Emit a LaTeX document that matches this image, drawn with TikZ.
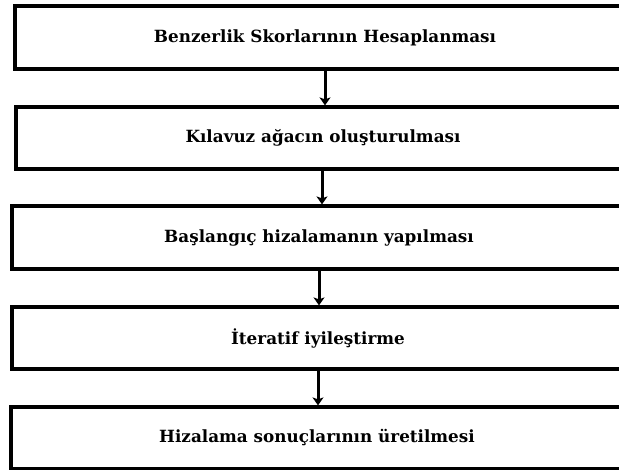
\documentclass[tikz,border=0pt]{standalone}
\usepackage{fontspec}
\setmainfont{DejaVu Serif}
\usetikzlibrary{arrows.meta}
\begin{document}
\begin{tikzpicture}[x=1pt,y=1pt,
  stepbox/.style={draw=black, line width=3.2pt, fill=white, inner sep=0pt,
    font=\fontsize{16.8}{19}\selectfont\bfseries},
  flow/.style={line width=3pt, -{Stealth[length=8pt,width=11pt,inset=2pt]}}]
\useasboundingbox (0,0) rectangle (619,-470);
\fill[white] (0,0) rectangle (619,-470);
\node[stepbox, minimum width=620pt, minimum height=63pt] (b1) at (325,-37.5) {Benzerlik Skorlarının Hesaplanması};
\node[stepbox, minimum width=614pt, minimum height=62pt] (b2) at (323,-138) {Kılavuz ağacın oluşturulması};
\node[stepbox, minimum width=614pt, minimum height=63pt] (b3) at (319,-237.5) {Başlangıç hizalamanın yapılması};
\node[stepbox, minimum width=612pt, minimum height=62pt] (b4) at (318,-338) {İteratif iyileştirme};
\node[stepbox, minimum width=612pt, minimum height=62pt] (b5) at (317,-438) {Hizalama sonuçlarının üretilmesi};
\draw[flow] (b1.south) -- (b1.south |- b2.north);
\draw[flow] ([xshift=-1pt]b2.south) -- ([xshift=-1pt]b2.south |- b3.north);
\draw[flow] (b3.south) -- (b3.south |- b4.north);
\draw[flow] (b4.south) -- (b4.south |- b5.north);
\end{tikzpicture}
\end{document}
